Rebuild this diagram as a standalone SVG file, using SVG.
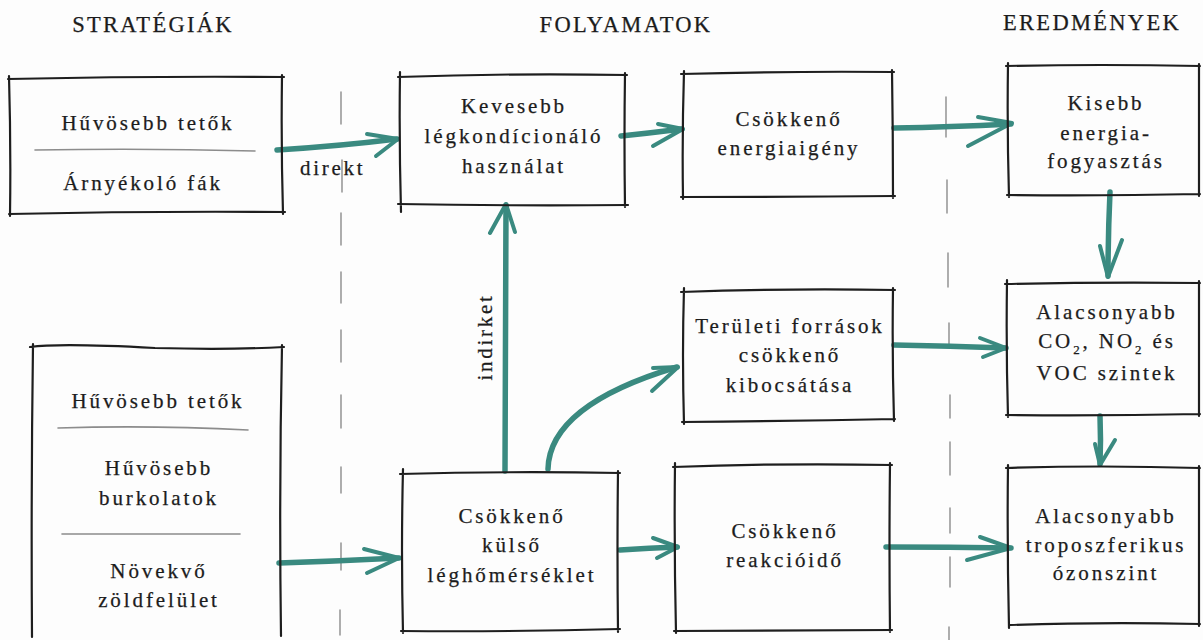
<svg xmlns="http://www.w3.org/2000/svg" width="1203" height="640" viewBox="0 0 1203 640">
<style>
.bg{fill:#fdfdfd}
.box{fill:none;stroke:#1e1e1e;stroke-width:2.2;stroke-linecap:round;stroke-linejoin:round}
.div{fill:none;stroke:#8c8c8c;stroke-width:1.6;stroke-linecap:round}
.dash{fill:none;stroke:#9a9a9a;stroke-width:1.6;stroke-linecap:round}
.arr{fill:none;stroke:#3a8a80;stroke-width:5.5;stroke-linecap:round;stroke-linejoin:round}
.barb{fill:none;stroke:#3a8a80;stroke-width:4;stroke-linecap:round;stroke-linejoin:round}
text{font-family:'Liberation Serif','Times New Roman',Times,'DejaVu Serif',serif;fill:#1c1c1c;stroke:#1c1c1c;stroke-width:0.25}
.hd{font-size:22.5px;letter-spacing:2.3px;text-anchor:middle}
.t{font-size:21px;letter-spacing:2.9px;text-anchor:middle}
.lbl{font-size:21px;letter-spacing:2.7px}
</style>
<rect class="bg" x="0" y="0" width="1203" height="640"/>

<g id="headers">
<text class="hd" x="153" y="32">STRATÉGIÁK</text>
<text class="hd" x="626" y="32">FOLYAMATOK</text>
<text class="hd" x="1092" y="30">EREDMÉNYEK</text>
</g>

<g id="dividers">
<path class="dash" d="M341,92 L341,124 M342,160 L342,192 M341,213 L341,245 M341,272 L341,303 M341,330 L341,362 M341,395 L341,428 M341,467 L341,493 M341,543 L341,570 M340,610 L340,635"/>
<path class="dash" d="M946,97 L946,137 M947,180 L947,213 M948,253 L948,287 M949,323 L949,347 M950,395 L950,418 M950,442 L950,475 M950,508 L950,533 M950,557 L950,587 M949,627 L949,640"/>
</g>

<g id="connectors">
<path class="arr" d="M277,150 Q340,146 397,139"/>
<path class="barb" d="M367,134 L398,139 L376,156"/>
<path class="arr" d="M621,136 Q650,133 682,129"/>
<path class="barb" d="M658,124 L683,129 L653,146"/>
<path class="arr" d="M894,128 Q950,127 1011,124"/>
<path class="barb" d="M978,117 L1012,123 L968,146"/>
<path class="arr" d="M1110,192 Q1108,235 1108,276"/>
<path class="barb" d="M1100,246 L1108,277 L1122,240"/>
<path class="arr" d="M894,345 Q950,346 1006,348"/>
<path class="barb" d="M980,338 L1006,348 L983,357"/>
<path class="arr" d="M1100,416 Q1101,440 1100,464"/>
<path class="barb" d="M1095,444 L1100,465 L1115,440"/>
<path class="arr" d="M886,547 Q950,547 1011,548"/>
<path class="barb" d="M980,537 L1011,548 L967,560"/>
<path class="arr" d="M279,563 Q340,561 399,558"/>
<path class="barb" d="M364,549 L399,558 L367,573"/>
<path class="arr" d="M620,550 Q650,548 677,547"/>
<path class="barb" d="M653,538 L678,547 L657,558"/>
<path class="arr" d="M505,471 L506,205"/>
<path class="barb" d="M490,233 L506,204 L515,232"/>
<path class="arr" d="M548,469 C549,428 590,393 677,367"/>
<path class="barb" d="M653,368 L678,367 L652,391"/>
<text class="lbl" x="300" y="175">direkt</text>
<text class="lbl" x="492" y="337" text-anchor="middle" transform="rotate(-90 492 337)">indirket</text>
</g>

<g id="strat1">
<path class="box" d="M8,79 Q145,76 284,77 M282,75 Q281,145 283,214 M285,212 Q145,211 9,214 M10,216 Q11,145 9,76"/>
<text class="t" x="148" y="130">Hűvösebb tetők</text>
<path class="div" d="M35,150 Q145,148 255,151"/>
<text class="t" x="143" y="190">Árnyékoló fák</text>
</g>

<g id="strat2">
<path class="box" d="M30,347 Q60,343 155,348 Q230,350 284,347 M282,345 Q279,490 281,636 M33,344 Q31,490 32,637"/>
<text class="t" x="158" y="408">Hűvösebb tetők</text>
<path class="div" d="M58,428 Q150,425 248,430"/>
<text class="t" x="159" y="475">Hűvösebb</text>
<text class="t" x="159" y="505">burkolatok</text>
<path class="div" d="M62,534 L240,534"/>
<text class="t" x="159" y="578">Növekvő</text>
<text class="t" x="159" y="607">zöldfelület</text>
</g>

<g id="kevesebb">
<path class="box" d="M398,77 Q510,73 627,75 M625,73 Q624,140 625,207 M628,205 Q510,206 398,204 M401,212 Q399,140 400,72"/>
<text class="t" x="514" y="113">Kevesebb</text>
<text class="t" x="514" y="143">légkondícionáló</text>
<text class="t" x="514" y="173">használat</text>
</g>

<g id="energiaigeny">
<path class="box" d="M681,74 Q790,71 894,72 M892,70 Q893,135 893,198 M895,196 Q790,197 681,197 M683,199 Q682,135 684,71"/>
<text class="t" x="789" y="126">Csökkenő</text>
<text class="t" x="789" y="155">energiaigény</text>
</g>

<g id="kisebb">
<path class="box" d="M1006,66 Q1100,64 1200,66 M1199,64 L1199,196 M1200,194 Q1100,196 1007,195 M1009,197 Q1007,130 1008,63"/>
<text class="t" x="1106" y="110">Kisebb</text>
<text class="t" x="1106" y="140">energia-</text>
<text class="t" x="1106" y="168">fogyasztás</text>
</g>

<g id="teruleti">
<path class="box" d="M681,292 Q790,288 895,290 M893,288 Q892,355 894,421 M895,419 Q790,421 682,422 M684,424 Q682,355 684,288"/>
<text class="t" x="790" y="333">Területi források</text>
<text class="t" x="790" y="362">csökkenő</text>
<text class="t" x="790" y="392">kibocsátása</text>
</g>

<g id="alacsony-co2">
<path class="box" d="M1005,284 Q1100,282 1200,283 M1199,281 L1199,416 M1200,414 Q1100,416 1006,415 M1008,417 Q1006,350 1007,280"/>
<text class="t" x="1107" y="319">Alacsonyabb</text>
<text class="t" x="1107" y="348">CO<tspan font-size="13" dy="6">2</tspan><tspan dy="-6">, NO</tspan><tspan font-size="13" dy="6">2</tspan><tspan dy="-6"> és</tspan></text>
<text class="t" x="1107" y="380">VOC szintek</text>
</g>

<g id="kulso">
<path class="box" d="M400,474 Q510,471 620,473 M618,471 Q617,550 618,632 M620,629 Q510,632 401,631 M403,633 Q401,550 403,469"/>
<text class="t" x="512" y="523">Csökkenő</text>
<text class="t" x="512" y="552">külső</text>
<text class="t" x="512" y="582">léghőmérséklet</text>
</g>

<g id="reakcio">
<path class="box" d="M673,467 Q780,463 892,465 M890,463 Q889,548 890,632 M892,630 Q780,631 674,631 M676,633 Q674,548 675,463"/>
<text class="t" x="785" y="538">Csökkenő</text>
<text class="t" x="785" y="567">reakcióidő</text>
</g>

<g id="ozon">
<path class="box" d="M1006,468 Q1100,465 1200,468 M1199,466 L1199,626 M1200,624 Q1100,622 1010,625 M1009,628 Q1007,545 1008,465"/>
<text class="t" x="1106" y="523">Alacsonyabb</text>
<text class="t" x="1106" y="552">troposzferikus</text>
<text class="t" x="1106" y="580">ózonszint</text>
</g>
</svg>
